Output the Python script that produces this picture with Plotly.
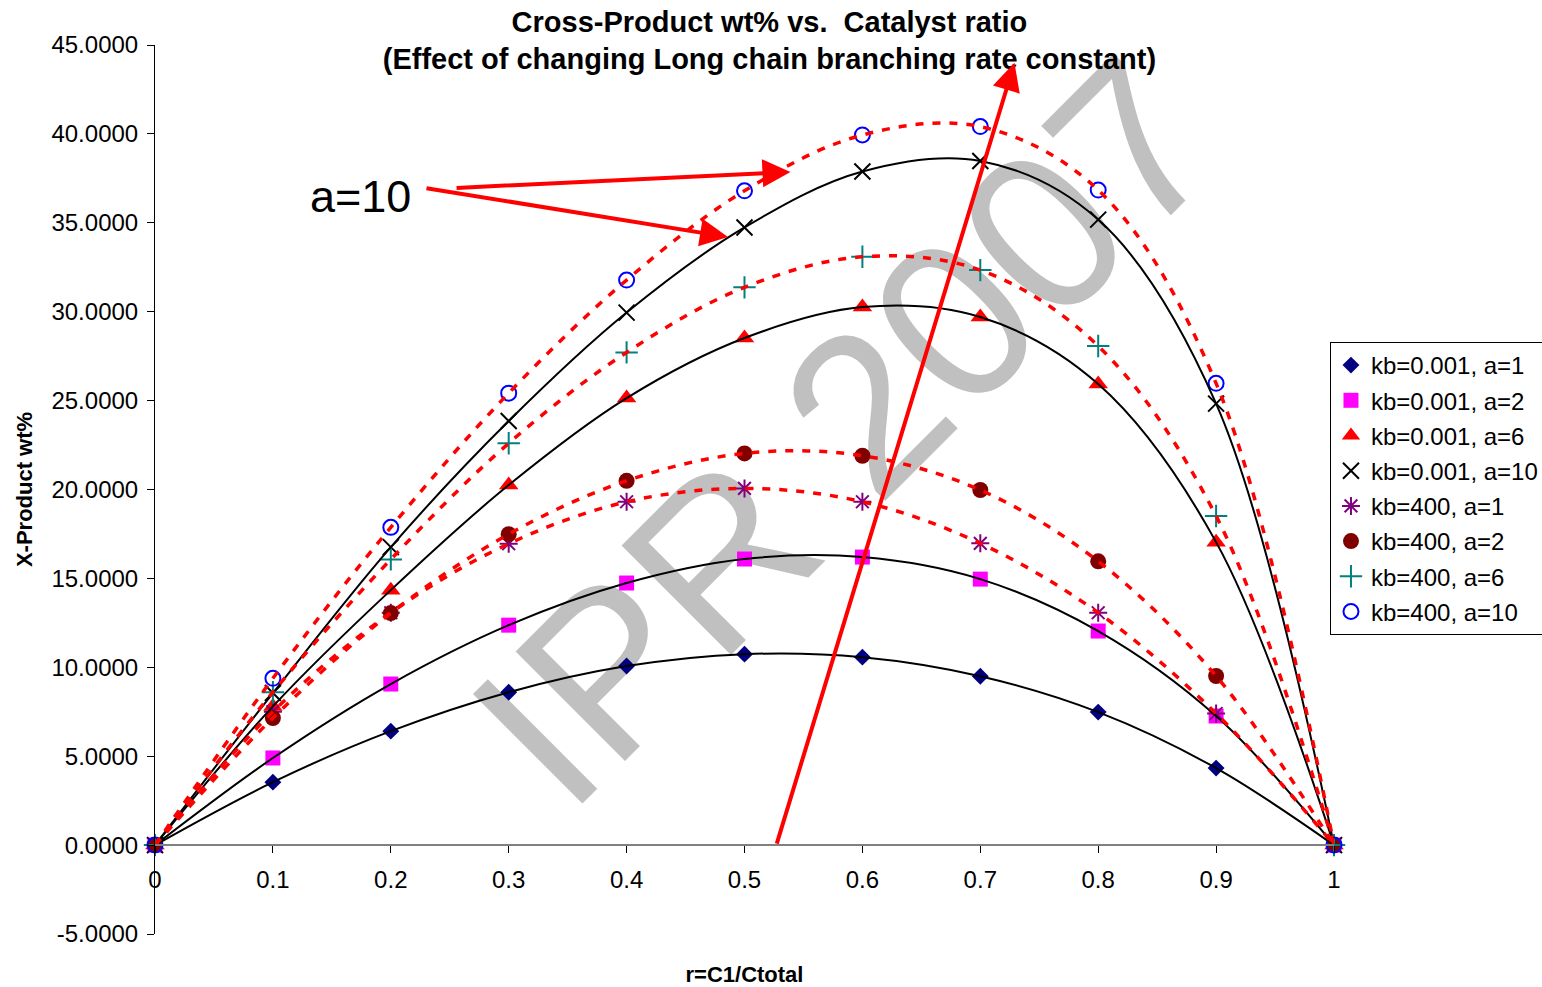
import plotly.graph_objects as go

# Catalyst ratio r = C1/Ctotal
r = [0.0, 0.1, 0.2, 0.3, 0.4, 0.5, 0.6, 0.7, 0.8, 0.9, 1.0]

# Cross-product wt% for each long-chain-branching rate constant (kb) and a
kb0001_a1 = [0, 3.54, 6.41, 8.60, 10.07, 10.74, 10.57, 9.50, 7.48, 4.33, 0]
kb0001_a2 = [0, 4.90, 9.06, 12.37, 14.74, 16.09, 16.20, 14.96, 12.04, 7.26, 0]
kb0001_a6 = [0, 7.80, 14.34, 20.25, 25.14, 28.52, 30.26, 29.70, 25.93, 17.04, 0]
kb0001_a10 = [0, 8.55, 16.76, 23.85, 29.95, 34.74, 37.89, 38.48, 35.18, 24.83, 0]
kb400_a1 = [0, 7.50, 13.07, 16.95, 19.31, 20.06, 19.31, 16.97, 13.07, 7.40, 0]
kb400_a2 = [0, 7.15, 13.05, 17.49, 20.49, 22.03, 21.90, 19.97, 15.96, 9.51, 0]
kb400_a6 = [0, 8.60, 16.07, 22.60, 27.71, 31.37, 33.09, 32.34, 28.07, 18.51, 0]
kb400_a10 = [0, 9.38, 17.87, 25.42, 31.78, 36.80, 39.94, 40.41, 36.84, 25.97, 0]

series_names = [
    "kb=0.001, a=1", "kb=0.001, a=2", "kb=0.001, a=6", "kb=0.001, a=10",
    "kb=400, a=1", "kb=400, a=2", "kb=400, a=6", "kb=400, a=10",
]
series_values = [kb0001_a1, kb0001_a2, kb0001_a6, kb0001_a10,
                 kb400_a1, kb400_a2, kb400_a6, kb400_a10]

x_tickvals = [0, 0.1, 0.2, 0.3, 0.4, 0.5, 0.6, 0.7, 0.8, 0.9, 1]
x_ticktext = ["0", "0.1", "0.2", "0.3", "0.4", "0.5", "0.6", "0.7", "0.8", "0.9", "1"]
y_tickvals = [-5, 0, 5, 10, 15, 20, 25, 30, 35, 40, 45]
y_ticktext = ["-5.0000", "0.0000", "5.0000", "10.0000", "15.0000", "20.0000",
              "25.0000", "30.0000", "35.0000", "40.0000", "45.0000"]

# marker styling per series
marker_styles = [
    dict(symbol="diamond", color="#000080", size=13),
    dict(symbol="square", color="#FF00FF", size=15),
    dict(symbol="triangle-up", color="#FF0000", size=17),
    dict(symbol="x-thin-open", color="#000000", size=16, line=dict(color="#000000", width=2)),
    dict(symbol="asterisk-open", color="#800080", size=15, line=dict(color="#800080", width=2)),
    dict(symbol="circle", color="#800000", size=16),
    dict(symbol="cross-thin-open", color="#008080", size=16, line=dict(color="#008080", width=2)),
    dict(symbol="circle-open", color="#0000FF", size=15, line=dict(color="#0000FF", width=2)),
]

FONT = "Liberation Sans, Arial, sans-serif"

fig = go.Figure()

for i, (name, vals) in enumerate(zip(series_names, series_values)):
    fig.add_trace(go.Scatter(
        x=r, y=vals, name=name, mode="markers",
        marker=marker_styles[i], legendgroup=name, cliponaxis=False,
    ))

# smoothed curves through each series
for i, (name, vals) in enumerate(zip(series_names, series_values)):
    if i < 4:
        line = dict(color="#000000", width=2, shape="spline", smoothing=1)
    else:
        line = dict(color="#FF0000", width=3.5, shape="spline", smoothing=1, dash="8px,9px")
    fig.add_trace(go.Scatter(
        x=r, y=vals, mode="lines", line=line, showlegend=False,
        legendgroup=name, hoverinfo="skip", cliponaxis=False,
    ))

# watermark, drawn beneath the data
fig.add_shape(
    type="rect", xref="x", yref="y", x0=0.472, x1=0.672, y0=21.1, y1=27.1,
    line=dict(width=0), fillcolor="rgba(0,0,0,0)", layer="below",
    label=dict(text="IPR 2007", textangle=-45, textposition="middle center",
               font=dict(family=FONT, size=225, color="#C0C0C0")),
)

arrow = dict(showarrow=True, arrowhead=2, arrowsize=1.4, arrowwidth=4,
             arrowcolor="#FF0000", xref="x", yref="y", axref="x", ayref="y", text="")
fig.add_annotation(x=0.729, y=44.0, ax=0.527, ay=0.0, **arrow)
fig.add_annotation(x=0.539, y=37.86, ax=0.2545, ay=36.96, **arrow)
fig.add_annotation(x=0.486, y=34.2, ax=0.229, ay=36.96, **arrow)
fig.add_annotation(x=0.174, y=36.5, xref="x", yref="y", text="a=10", showarrow=False,
                   font=dict(family=FONT, size=45, color="#000000"))

fig.update_layout(
    width=1542, height=987,
    margin=dict(l=155, r=208, t=45, b=53, autoexpand=False),
    paper_bgcolor="white", plot_bgcolor="white",
    font=dict(family=FONT, color="#000000", size=24),
    title=dict(
        text="<b>Cross-Product wt% vs.&nbsp; Catalyst ratio<br>(Effect of changing Long chain branching rate constant)</b>",
        x=0.499, xref="container", xanchor="center",
        y=0.968, yref="container", yanchor="top",
        font=dict(family=FONT, size=29, color="#000000"),
    ),
    showlegend=True,
    legend=dict(
        xref="container", yref="container",
        x=0.8625, xanchor="left", y=0.6535, yanchor="top",
        bordercolor="#000000", borderwidth=1, bgcolor="white",
        font=dict(family=FONT, size=24), tracegroupgap=1,
        itemwidth=30,
    ),
    xaxis=dict(
        range=[0, 1], tickvals=x_tickvals, ticktext=x_ticktext,
        anchor="free", position=0.1, automargin=False,
        showline=True, linecolor="#808080", linewidth=2,
        ticks="outside", ticklen=7, tickcolor="#000000", tickwidth=1,
        ticklabelstandoff=6,
        showgrid=False, zeroline=False,
        title=dict(text="<b>r=C1/Ctotal</b>", standoff=76,
                   font=dict(family=FONT, size=22)),
    ),
    yaxis=dict(
        range=[-5, 45], tickvals=y_tickvals, ticktext=y_ticktext,
        showline=True, linecolor="#000000", linewidth=1,
        ticks="outside", ticklen=7, tickcolor="#000000",
        ticklabelstandoff=4, automargin=False,
        showgrid=False, zeroline=False,
        title=dict(text="<b>X-Product wt%</b>", standoff=12,
                   font=dict(family=FONT, size=22)),
    ),
)

fig.write_html("out.html")
